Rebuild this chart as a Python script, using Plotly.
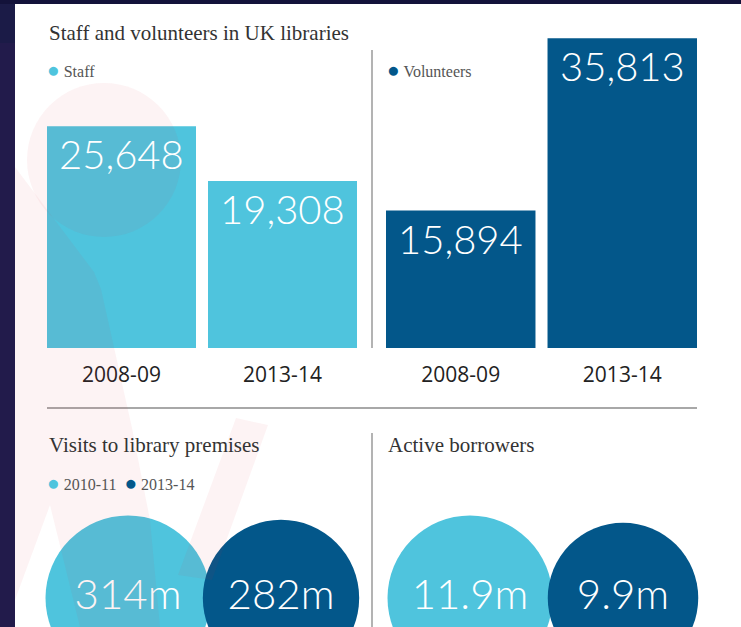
import math
import plotly.graph_objects as go

# ---------------- data ----------------
bar_years = ["2008-09", "2013-14"]
staff = [25648, 19308]
volunteers = [15894, 35813]

circle_years = ["2010-11", "2013-14"]
visits_m = [314, 282]
borrowers_m = [11.9, 9.9]

titles = ["Staff and volunteers in UK libraries", "Visits to library premises", "Active borrowers"]
series_names = ["Staff", "Volunteers"]

# ---------------- style ----------------
W, H = 741, 627
LIGHT = "#4fc4dd"
DARK = "#03578a"
SERIF = "Liberation Serif"
THIN = "'Lato Light', Lato"
SANS = "Open Sans"


def fx(p):
    return p / W


def fy(p):
    return 1 - p / H


SCALE = 0.00865          # px per unit of staff count
BAR_BOTTOM, BAR_TOP = 348, 36
YMAX = (BAR_BOTTOM - BAR_TOP) / SCALE
BARGAP = 12 / 161
XR = [-(1 - BARGAP) / 2, 1 + (1 - BARGAP) / 2]
R_BIG = 82.5

fig = go.Figure()

fig.add_trace(go.Bar(x=bar_years, y=staff, name=series_names[0], xaxis="x", yaxis="y",
                     marker=dict(color=LIGHT, line=dict(width=0)), hoverinfo="skip"))
fig.add_trace(go.Bar(x=bar_years, y=volunteers, name=series_names[1], xaxis="x2", yaxis="y2",
                     marker=dict(color=DARK, line=dict(width=0)), hoverinfo="skip"))


def circle_trace(vals, xa, ya):
    vmax = max(vals)
    return go.Scatter(
        x=circle_years, y=[0, 0], xaxis=xa, yaxis=ya, mode="markers+text",
        marker=dict(size=[2 * R_BIG * math.sqrt(v / vmax) for v in vals],
                    sizemode="diameter", color=[LIGHT, DARK], line=dict(width=0), opacity=1),
        text=[f"{v:g}m" for v in vals], textposition="middle center",
        textfont=dict(family=THIN, size=42, color="white", weight=300),
        cliponaxis=False, hoverinfo="skip", showlegend=False)


fig.add_trace(circle_trace(visits_m, "x3", "y3"))
fig.add_trace(circle_trace(borrowers_m, "x4", "y4"))

annotations = []
# value labels on the bars
for xa, ya, vals in (("x", "y", staff), ("x2", "y2", volunteers)):
    for c, v in zip(bar_years, vals):
        annotations.append(dict(x=c, y=v, xref=xa, yref=ya, text=f"{v:,}", showarrow=False,
                                yanchor="top", yshift=-2,
                                font=dict(family=THIN, size=40, color="white", weight=300)))

# titles
for txt, x, y in ((titles[0], 47, 33), (titles[1], 47, 445), (titles[2], 386, 445)):
    annotations.append(dict(x=fx(x), y=fy(y), xref="paper", yref="paper", text=txt,
                            showarrow=False, xanchor="left", yanchor="middle",
                            font=dict(family=SERIF, size=21, color="#333333")))


def dot(color):
    return f"<span style='color:{color};font-size:21px'>●</span>"


# legend-like keys
keys = [
    (f"{dot(LIGHT)} {series_names[0]}", 45, 70),
    (f"{dot(DARK)} {series_names[1]}", 385, 70),
    (f"{dot(LIGHT)} {circle_years[0]}  {dot(DARK)} {circle_years[1]}", 45, 483),
]
for txt, x, y in keys:
    annotations.append(dict(x=fx(x), y=fy(y), xref="paper", yref="paper", text=txt,
                            showarrow=False, xanchor="left", yanchor="middle",
                            font=dict(family=SERIF, size=16, color="#555555")))

shapes = [
    # panel background
    dict(type="rect", xref="paper", yref="paper", x0=fx(15), x1=1, y0=0, y1=fy(4),
         fillcolor="white", line=dict(width=0), layer="below"),
    dict(type="rect", xref="paper", yref="paper", x0=0, x1=fx(15), y0=fy(43), y1=fy(4),
         fillcolor="#1b1b47", line=dict(width=0), layer="below"),
    dict(type="rect", xref="paper", yref="paper", x0=0, x1=1, y0=fy(4), y1=1,
         fillcolor="#13123a", line=dict(width=0), layer="below"),
    # dividers
    dict(type="line", xref="paper", yref="paper", x0=fx(372), x1=fx(372), y0=fy(50), y1=fy(348),
         line=dict(color="#9a9a9a", width=1.5)),
    dict(type="line", xref="paper", yref="paper", x0=fx(47), x1=fx(697), y0=fy(408), y1=fy(408),
         line=dict(color="#a8a8a8", width=2)),
    dict(type="line", xref="paper", yref="paper", x0=fx(372), x1=fx(372), y0=fy(433), y1=0,
         line=dict(color="#9a9a9a", width=1.5)),
]

# faint watermark in the background
WM = "rgba(225,50,60,0.06)"
shapes.append(dict(type="circle", xref="paper", yref="paper", x0=fx(27), x1=fx(181),
                   y0=fy(237), y1=fy(83), fillcolor=WM, line=dict(width=0), layer="above"))


def path(pts):
    return "M " + " L ".join(f"{fx(a):.5f},{fy(b):.5f}" for a, b in pts) + " Z"


shapes.append(dict(type="path", xref="paper", yref="paper",
                   path=path([(15, 167), (94, 272), (101, 289), (132, 428), (150, 520),
                              (160, 627), (80, 627), (50, 505), (15, 600)]),
                   fillcolor=WM, line=dict(width=0), layer="above"))
shapes.append(dict(type="path", xref="paper", yref="paper",
                   path=path([(178, 575), (236, 418), (268, 425), (212, 580)]),
                   fillcolor=WM, line=dict(width=0), layer="above"))

axis_common = dict(showgrid=False, zeroline=False, showline=False, fixedrange=True,
                   automargin=False)
tick_font = dict(family=SANS, size=21, color="#222222")

fig.update_layout(
    width=W, height=H, margin=dict(l=0, r=0, t=0, b=0, autoexpand=False),
    paper_bgcolor="#221b4b", plot_bgcolor="rgba(0,0,0,0)",
    showlegend=False, bargap=BARGAP,
    xaxis=dict(type="category", domain=[fx(47), fx(357)], anchor="y", range=XR, ticks="",
               tickfont=tick_font, ticklabelstandoff=12, **axis_common),
    yaxis=dict(domain=[fy(BAR_BOTTOM), fy(BAR_TOP)], anchor="x", range=[0, YMAX],
               showticklabels=False, **axis_common),
    xaxis2=dict(type="category", domain=[fx(386), fx(697)], anchor="y2", range=XR, ticks="",
                tickfont=tick_font, ticklabelstandoff=12, **axis_common),
    yaxis2=dict(domain=[fy(BAR_BOTTOM), fy(BAR_TOP)], anchor="x2", range=[0, YMAX],
                showticklabels=False, **axis_common),
    xaxis3=dict(type="category", domain=[fx(47), fx(362)], anchor="y3",
                range=[-81 / 153, 1 + 81 / 153], showticklabels=False, **axis_common),
    yaxis3=dict(domain=[fy(627), fy(569)], anchor="x3", range=[-1, 1],
                showticklabels=False, **axis_common),
    xaxis4=dict(type="category", domain=[fx(387), fx(706)], anchor="y4",
                range=[-83 / 153, 1 + 83 / 153], showticklabels=False, **axis_common),
    yaxis4=dict(domain=[fy(627), fy(569)], anchor="x4", range=[-1, 1],
                showticklabels=False, **axis_common),
    annotations=annotations, shapes=shapes,
)

fig.write_html("out.html", config={"displayModeBar": False},
               post_script="document.body.style.margin='0px';")
